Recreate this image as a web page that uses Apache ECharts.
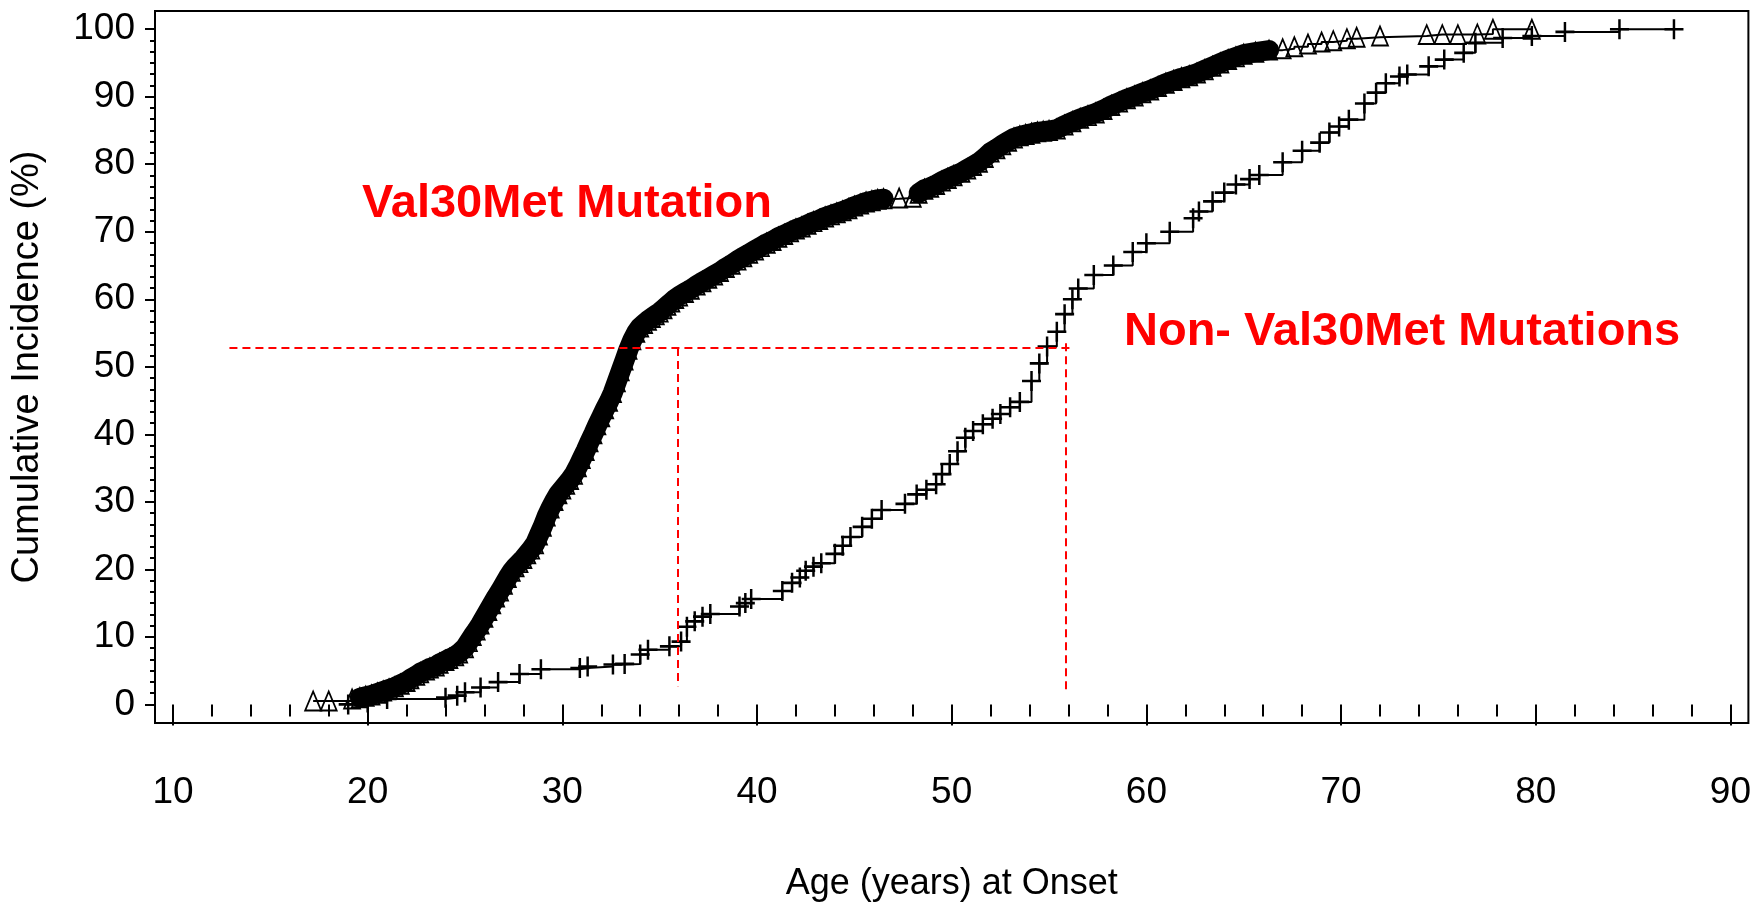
<!DOCTYPE html>
<html><head><meta charset="utf-8">
<script src="https://cdn.jsdelivr.net/npm/echarts@6/dist/echarts.min.js"></script>
<style>html,body{margin:0;padding:0;background:#fff}#c{width:1754px;height:907px}</style>
</head><body><div id="c"></div>
<script>
// ---- data ----
const val30Age = [17.2,18.0,19.2,19.6,19.9,20.2,20.5,20.8,21.1,21.4,21.7,22.0,22.2,22.5,22.7,23.0,23.2,23.5,23.7,24.0,24.2,24.5,24.7,25.0,25.2,25.4,25.6,25.8,26.0,26.2,26.4,26.6,26.8,27.0,27.2,27.4,27.6,27.8,28.0,28.2,28.4,28.6,28.8,29.0,29.2,29.4,29.6,29.8,30.0,30.2,30.4,30.6,30.8,31.0,31.2,31.4,31.6,31.8,32.0,32.2,32.4,32.6,32.8,33.0,33.2,33.4,33.6,33.8,34.0,34.2,34.4,34.6,34.8,35.0,35.2,35.4,35.6,35.8,36.0,36.3,36.6,36.9,37.2,37.5,37.8,38.1,38.4,38.7,39.0,39.3,39.6,39.9,40.2,40.5,40.8,41.1,41.4,41.7,42.0,42.3,42.6,42.9,43.2,43.5,43.8,44.1,44.4,44.7,45.0,45.3,45.6,45.9,46.2,46.5,47.3,48.0,48.3,48.6,48.9,49.2,49.5,49.8,50.1,50.5,50.8,51.1,51.4,51.7,52.0,52.3,52.6,52.9,53.2,53.5,53.8,54.1,54.4,54.7,55.0,55.4,55.8,56.2,56.6,57.0,57.4,57.8,58.2,58.6,59.0,59.4,59.8,60.2,60.6,61.0,61.4,61.8,62.2,62.6,63.0,63.4,63.8,64.2,64.6,65.0,65.6,66.3,67.0,67.6,68.3,69.0,69.6,70.3,70.8,72.0,74.4,75.2,76.0,77.0,77.8,79.8];
const val30Inc = [0.5,0.5,0.8,1.0,1.2,1.4,1.7,2.0,2.3,2.6,3.0,3.4,3.8,4.3,4.7,5.1,5.4,5.7,6.1,6.5,6.8,7.2,7.6,8.4,9.3,10.2,11.0,11.9,12.9,13.9,14.9,15.9,16.8,17.8,18.8,19.7,20.4,21.0,21.6,22.3,23.0,23.8,25.1,26.4,27.9,29.1,30.2,31.2,31.9,32.6,33.3,34.1,35.2,36.4,37.6,38.9,40.1,41.4,42.6,43.8,44.9,46.2,47.8,49.4,51.0,52.6,54.0,55.1,55.9,56.4,56.9,57.3,57.7,58.1,58.6,59.1,59.6,60.1,60.5,61.0,61.5,62.1,62.6,63.1,63.6,64.1,64.7,65.2,65.8,66.3,66.8,67.3,67.8,68.3,68.7,69.2,69.6,70.0,70.4,70.7,71.1,71.5,71.8,72.2,72.5,72.8,73.1,73.4,73.8,74.1,74.4,74.6,74.8,74.9,75.0,75.1,75.7,76.3,76.6,77.0,77.5,77.9,78.3,78.8,79.3,79.8,80.3,81.0,81.8,82.3,82.9,83.4,83.9,84.2,84.4,84.6,84.8,84.9,85.0,85.2,85.8,86.3,86.8,87.2,87.6,88.1,88.7,89.2,89.7,90.1,90.6,91.0,91.5,92.0,92.4,92.8,93.1,93.5,94.0,94.5,95.0,95.5,95.9,96.3,96.6,96.9,97.1,97.4,97.8,98.1,98.3,98.6,98.8,99.0,99.2,99.2,99.2,99.3,100,100];

const nonAge = [19.0,20.0,21.0,24.0,24.6,25.0,25.8,26.7,27.8,28.9,30.9,31.3,32.6,33.2,34.0,34.4,35.5,36.1,36.4,36.8,37.2,37.6,39.1,39.4,39.7,41.3,41.8,42.2,42.5,42.9,43.3,44.0,44.4,44.8,45.4,45.9,46.4,47.6,48.2,48.7,49.2,49.5,49.9,50.3,50.7,51.1,51.6,52.1,52.5,53.0,53.5,54.1,54.5,54.9,55.4,55.8,56.2,56.5,57.3,58.3,59.3,60.0,61.2,62.4,62.7,63.4,64.0,64.6,65.3,65.8,67.0,68.0,68.9,69.4,69.9,70.4,71.2,71.8,72.3,73.0,73.4,74.5,75.3,76.3,76.9,78.3,79.8,81.5,84.3,87.1];
const nonInc = [0,0.3,0.8,1.0,1.3,1.8,2.5,3.3,4.5,5.2,5.4,5.6,5.9,6.0,7.4,8.1,8.6,9.3,11.5,12.3,13.0,13.4,14.5,15.0,15.6,16.8,18.0,18.8,19.8,20.4,20.9,22.3,23.5,24.8,26.3,27.5,28.8,29.7,31.1,31.8,32.6,34.1,35.6,37.5,39.5,40.5,41.5,42.3,43.0,44.0,44.8,47.9,50.5,53.0,55.2,57.8,60.0,61.6,63.6,65.0,67.0,68.3,70.0,72.0,73.0,74.5,75.8,77.0,77.8,78.4,80.3,82.0,83.2,84.7,85.6,86.6,89.0,90.6,92.0,93.0,93.3,94.5,95.5,96.5,98.0,98.7,99.0,99.6,100,100];

const xTickLabels = [10,20,30,40,50,60,70,80,90];
const yTickLabels = [0,10,20,30,40,50,60,70,80,90,100];

// age ranges where the Val30Met censoring marks pile up into a solid band
const val30DenseRanges = [[19.5, 46.6], [48.2, 66.4]];

// red dashed reference lines (median at ~52.8 %)
const refLevel = 52.8;
const refHorizFrom = 12.9, refHorizTo = 56.1;
const refVertAges = [35.95, 55.85];
const refVertTops = [52.8, 53.5];
const refVertBottoms = [2.7, 1.8];

const seriesNames = ['Val30Met Mutation', 'Non- Val30Met Mutations'];

// ---- minor tick positions derived from the major ticks ----
const xMinor = [];
for (let i = 0; i < xTickLabels.length - 1; i++) for (let j = 1; j < 5; j++) xMinor.push(xTickLabels[i] + j * (xTickLabels[i+1]-xTickLabels[i]) / 5);
const yMinor = [];
for (let i = 0; i < yTickLabels.length - 1; i++) for (let j = 1; j < 6; j++) yMinor.push(yTickLabels[i] + j * (yTickLabels[i+1]-yTickLabels[i]) / 6);

const zip = (a, b) => a.map((v, i) => [v, b[i]]);
const inDense = a => val30DenseRanges.some(r => a >= r[0] && a <= r[1]);
const bandData = val30Age.map((a, i) => inDense(a) ? [a, val30Inc[i]] : [a, '-']);

const X_MIN = 9.077, X_MAX = 90.923, Y_MIN = -2.754, Y_MAX = 102.695;
const labelFont = {fontSize: 37, fontFamily: '"Liberation Sans Narrow","Liberation Sans",Arial,sans-serif', color: '#000'};
const nameFont = {fontSize: 36, fontFamily: '"Liberation Sans",Arial,sans-serif', color: '#000'};
const tickStyle = {color: '#000', width: 2};
const PLUS = 'path://M8.7,0H11.3V8.7H20V11.3H11.3V20H8.7V11.3H0V8.7H8.7Z';

const chart = echarts.init(document.getElementById('c'), null, {renderer: 'canvas'});
chart.setOption({
  animation: false,
  backgroundColor: '#fff',
  grid: {left: 155, right: 3, top: 11, bottom: 180, show: true, borderColor: '#000', borderWidth: 2, backgroundColor: 'rgba(0,0,0,0)'},
  xAxis: [{
    type: 'value', min: X_MIN, max: X_MAX, position: 'bottom',
    axisLine: {show: false},
    axisTick: {show: true, customValues: xTickLabels, length: 21, lineStyle: tickStyle},
    axisLabel: Object.assign({show: true, customValues: xTickLabels, margin: 51}, labelFont),
    splitLine: {show: false},
    name: 'Age (years) at Onset', nameLocation: 'middle', nameGap: 143, nameTextStyle: nameFont
  }, {
    type: 'value', min: X_MIN, max: X_MAX, position: 'bottom',
    axisLine: {show: false},
    axisTick: {show: true, customValues: xMinor, length: 12, lineStyle: tickStyle},
    axisLabel: {show: false}, splitLine: {show: false}
  }],
  yAxis: [{
    type: 'value', min: Y_MIN, max: Y_MAX, position: 'left',
    axisLine: {show: false},
    axisTick: {show: true, customValues: yTickLabels, length: 10, lineStyle: tickStyle},
    axisLabel: Object.assign({show: true, customValues: yTickLabels, margin: 20}, labelFont),
    splitLine: {show: false},
    name: 'Cumulative Incidence (%)', nameLocation: 'middle', nameGap: 108, nameTextStyle: Object.assign({}, nameFont, {fontSize: 38})
  }, {
    type: 'value', min: Y_MIN, max: Y_MAX, position: 'left',
    axisLine: {show: false},
    axisTick: {show: true, customValues: yMinor, length: 5, lineStyle: tickStyle},
    axisLabel: {show: false}, splitLine: {show: false}
  }],
  graphic: [
    {type: 'text', z: 100, style: {x: 362, y: 204, text: seriesNames[0], verticalAlign: 'middle', align: 'left', font: 'bold 47px "Liberation Sans",Arial,sans-serif', fill: '#ff0000'}},
    {type: 'text', z: 100, style: {x: 1124, y: 332, text: seriesNames[1], verticalAlign: 'middle', align: 'left', font: 'bold 47px "Liberation Sans",Arial,sans-serif', fill: '#ff0000'}}
  ],
  series: [{
    // dense pile-up of overlapping censoring marks
    name: seriesNames[0] + ' marks', type: 'line', xAxisIndex: 0, yAxisIndex: 0,
    data: bandData, connectNulls: false, showSymbol: false, symbol: 'none', z: 1,
    lineStyle: {color: '#000', width: 20, cap: 'round', join: 'round'},
    emphasis: {disabled: true}, silent: true
  }, {
    name: seriesNames[0], type: 'line', step: 'end', xAxisIndex: 0, yAxisIndex: 0, z: 2,
    data: zip(val30Age, val30Inc),
    symbol: 'triangle', symbolSize: [16, 19], showSymbol: true,
    itemStyle: {color: 'rgba(255,255,255,0)', borderColor: '#000', borderWidth: 1.8},
    lineStyle: {color: '#000', width: 2},
    emphasis: {disabled: true}
  }, {
    name: seriesNames[1], type: 'line', step: 'end', xAxisIndex: 0, yAxisIndex: 0, z: 2,
    data: zip(nonAge, nonInc),
    symbol: PLUS, symbolSize: [19, 20], showSymbol: true,
    itemStyle: {color: '#000'},
    lineStyle: {color: '#000', width: 2},
    emphasis: {disabled: true},
    markLine: {
      silent: true, symbol: ['none', 'none'], animation: false,
      label: {show: false},
      lineStyle: {color: '#ff0000', type: [8, 5], width: 2},
      data: [
        [{coord: [refHorizFrom, refLevel]}, {coord: [refHorizTo, refLevel]}],
        [{coord: [refVertAges[0], refVertTops[0]]}, {coord: [refVertAges[0], refVertBottoms[0]]}],
        [{coord: [refVertAges[1], refVertTops[1]]}, {coord: [refVertAges[1], refVertBottoms[1]]}]
      ]
    }
  }]
});
</script></body></html>
